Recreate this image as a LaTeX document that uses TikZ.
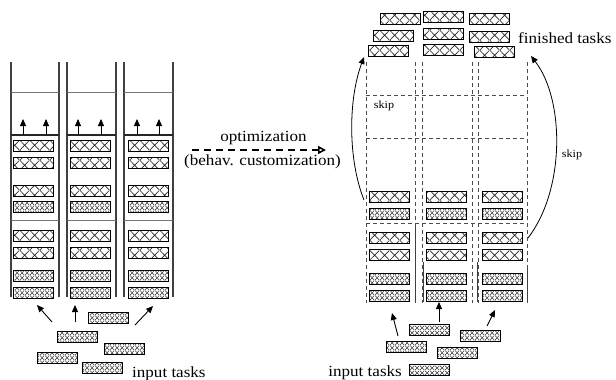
\documentclass[tikz,border=0pt]{standalone}
\usepackage{fontspec}
\setmainfont{Liberation Serif}[FakeStretch=1.1]
\usetikzlibrary{patterns.meta,arrows.meta}

\tikzdeclarepattern{name=bigx, bounding box={(0pt,0pt) and (10pt,10pt)}, tile size={(10pt,10pt)},
  code={\draw[line width=0.7pt] (0pt,0pt)--(10pt,10pt) (0pt,10pt)--(10pt,0pt);}}
\tikzdeclarepattern{name=densex, bounding box={(0pt,0pt) and (5pt,5pt)}, tile size={(5pt,5pt)},
  code={\draw[line width=0.6pt] (0pt,0pt)--(5pt,5pt) (0pt,5pt)--(5pt,0pt);}}

\tikzset{
  taskA/.style={draw=black, line width=1pt, minimum width=40pt, minimum height=11pt, inner sep=0pt, pattern=bigx, pattern color=black!85},
  taskB/.style={draw=black, line width=1pt, minimum width=40pt, minimum height=11pt, inner sep=0pt, pattern=densex, pattern color=black!80},
  wall/.style={draw=black!75, line width=1.3pt},
  divthin/.style={draw=black!55, line width=1pt},
  divthick/.style={draw=black!85, line width=1.6pt},
  dwall/.style={draw=black!70, line width=0.8pt, dash pattern=on 4pt off 3pt},
  arr/.style={-{Triangle[length=7pt,width=6pt]}, line width=0.9pt},
  lbl/.style={font=\fontsize{15.5}{18}\selectfont, inner sep=0pt},
  smalllbl/.style={font=\fontsize{11}{13}\selectfont, inner sep=0pt}
}

\begin{document}
\begin{tikzpicture}[x=1pt,y=-1pt]
\useasboundingbox (0,0) rectangle (616,380);

% ---------- left panel ----------
\foreach \x in {11,59,67,116,124,173} \draw[wall] (\x,62)--(\x,297);
\foreach \a/\b in {11/59,67/116,124/173} {
  \draw[divthin] (\a,92)--(\b,92);
  \draw[divthick] (\a,135)--(\b,135);
  \draw[divthin] (\a,220)--(\b,220);
}
\foreach \c/\x in {1/33,2/90.5,3/148} {
  \foreach \r/\y/\s in {1/146/taskA,2/163/taskA,3/191/taskA,4/207/taskB,5/235.5/taskA,6/252.5/taskA,7/275.5/taskB,8/292.5/taskB}
    \node[style=\s] (L\c\r) at (\x,\y) {};
}
\foreach \x in {23,46,78,101,137,159} {
  \coordinate (ua\x) at (\x,135);
  \coordinate (ub\x) at (\x,119);
  \draw[arr] (ua\x)--(ub\x);
}
% left input tasks
\node[taskB] (li1) at (108,317.5) {};
\node[taskB] (li2) at (77,337) {};
\node[taskB] (li3) at (124,348.5) {};
\node[taskB] (li4) at (57,357.5) {};
\node[taskB] (li5) at (102,368) {};
\coordinate (la1s) at (52,322); \coordinate (la1e) at (37,305);
\coordinate (la2s) at (75,322); \coordinate (la2e) at (75,305);
\coordinate (la3s) at (135,325); \coordinate (la3e) at (153,306);
\draw[arr] (la1s)--(la1e);
\draw[arr] (la2s)--(la2e);
\draw[arr] (la3s)--(la3e);
\node[lbl, anchor=base west] (lin) at (132,377) {input tasks};

% ---------- middle arrow ----------
\coordinate (os) at (192,150);
\coordinate (oe) at (326,150);
\draw[line width=1.6pt, dash pattern=on 7pt off 5pt, -{Triangle[open,length=8pt,width=8pt]}] (os)--(oe);
\node[lbl, anchor=base] (opt) at (263.5,141) {optimization};
\node[lbl, anchor=base] (beh) at (262.5,165) {(behav. customization)};

% ---------- right panel ----------
\foreach \x in {366,415,422,472,478,527} \draw[dwall] (\x,62)--(\x,303);
\foreach \y in {95,138,223} \draw[dwall] (366,\y)--(527,\y);
\draw[wall, line width=1pt] (415,227)--(415,302);
\draw[wall, line width=1pt] (423,262)--(423,302);
\draw[wall, line width=1pt] (477,262)--(477,302);
\draw[wall, line width=1pt] (527,268)--(527,302);
\foreach \c/\x in {1/389,2/446,3/502.5} {
  \foreach \r/\y/\s in {1/197/taskA,2/214/taskB,3/238/taskA,4/255/taskA,5/279/taskB,6/296/taskB}
    \node[style=\s] (R\c\r) at (\x,\y) {};
}
% finished tasks
\node[taskA] (f1) at (400.5,18.5) {};
\node[taskA] (f2) at (443,17) {};
\node[taskA] (f3) at (489,19) {};
\node[taskA] (f4) at (393,36) {};
\node[taskA] (f5) at (443,34) {};
\node[taskA] (f6) at (489.5,36.5) {};
\node[taskA] (f7) at (388,51) {};
\node[taskA] (f8) at (443,50) {};
\node[taskA] (f9) at (494.5,52) {};
\node[lbl, anchor=base west] (fin) at (518,43) {finished tasks};

% skip arrows
\coordinate (s1s) at (364,200); \coordinate (s1e) at (364,57);
\draw[arr, line width=0.8pt] (s1s) .. controls (348,160) and (348,100) .. (s1e);
\node[smalllbl] (sk1) at (384,106) {skip};
\coordinate (s2s) at (528,238); \coordinate (s2e) at (531,56);
\draw[arr, line width=0.8pt] (s2s) .. controls (565,190) and (565,100) .. (s2e);
\node[smalllbl] (sk2) at (572,155) {skip};

% right input tasks
\node[taskB] (ri1) at (429,330) {};
\node[taskB] (ri2) at (480,336) {};
\node[taskB] (ri3) at (406,347) {};
\node[taskB] (ri4) at (457,353) {};
\node[taskB] (ri5) at (429,370) {};
\coordinate (ra1s) at (398,336); \coordinate (ra1e) at (392,313);
\coordinate (ra2s) at (439,322); \coordinate (ra2e) at (439,302);
\coordinate (ra3s) at (487,326); \coordinate (ra3e) at (495,310);
\draw[arr] (ra1s)--(ra1e);
\draw[arr] (ra2s)--(ra2e);
\draw[arr] (ra3s)--(ra3e);
\node[lbl, anchor=base east] (rin) at (402,376.5) {input tasks};
\end{tikzpicture}
\end{document}
